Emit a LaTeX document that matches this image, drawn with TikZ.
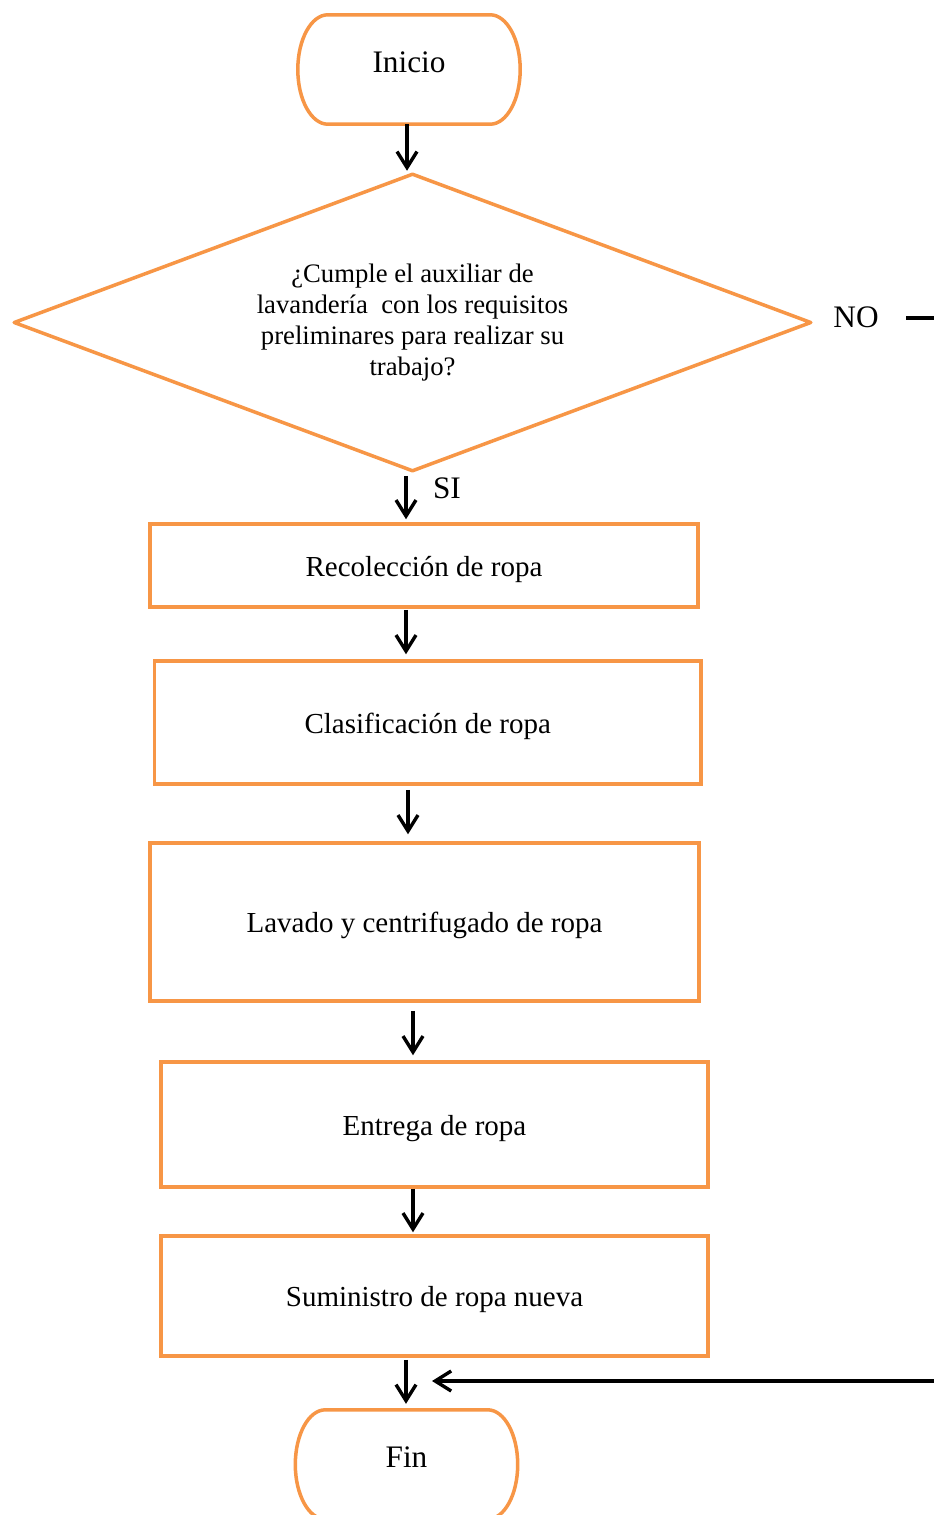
\documentclass[tikz,border=0pt]{standalone}
\usepackage{fontspec}
\setmainfont{Liberation Serif}
\usetikzlibrary{arrows.meta,shapes.geometric}
\definecolor{flowor}{HTML}{F79646}
\begin{document}
\begin{tikzpicture}[x=1pt,y=-1pt,
  box/.style={draw=flowor, line width=3.5pt, rectangle, inner sep=0pt,
    font=\fontsize{29}{33}\selectfont, text height=21pt, text depth=0pt},
  decision/.style={draw=flowor, line width=3.5pt, line join=round, diamond,
    aspect=2.68, inner sep=0pt, font=\fontsize{26.7}{31}\selectfont, align=center},
  termtext/.style={inner sep=0pt, font=\fontsize{31.3}{36}\selectfont,
    text depth=15pt, minimum width=222pt, minimum height=109pt},
  termline/.style={draw=flowor, line width=3.5pt},
  flow/.style={draw=black, line width=3.4pt, -{Straight Barb[length=16pt,width=20pt]}},
  tag/.style={font=\fontsize{31.3}{36}\selectfont, inner sep=0pt}
]
\useasboundingbox (0,0) rectangle (934,1515);
\fill[white] (0,0) rectangle (934,1515);
\clip (0,0) rectangle (934,1515);

% start terminal: straight top and bottom, half-elliptic ends
\node[termtext] (inicio) at (409,69.5) {Inicio};
\draw[termline] ([xshift=30pt]inicio.north west)
  .. controls ([xshift=13.43pt]inicio.north west) and ([yshift=30.1pt]inicio.west) .. (inicio.west)
  .. controls ([yshift=-30.1pt]inicio.west) and ([xshift=13.43pt]inicio.south west) .. ([xshift=30pt]inicio.south west)
  -- ([xshift=-30pt]inicio.south east)
  .. controls ([xshift=-13.43pt]inicio.south east) and ([yshift=-30.1pt]inicio.east) .. (inicio.east)
  .. controls ([yshift=30.1pt]inicio.east) and ([xshift=-13.43pt]inicio.north east) .. ([xshift=-30pt]inicio.north east)
  -- cycle;

% decision
\node[decision, minimum width=798pt, minimum height=298pt] (dec) at (412.5,322.5)
  {¿Cumple el auxiliar de\\lavandería~ con los requisitos\\preliminares para realizar su\\trabajo?};

% process steps
\node[box, minimum width=548pt, minimum height=83pt] (rec) at (424,565.5) {Recolección de ropa};
\node[box, minimum width=546.5pt, minimum height=123pt] (cla) at (427.75,722.5) {Clasificación de ropa};
\node[box, minimum width=549pt, minimum height=158pt] (lav) at (424.5,922) {Lavado y centrifugado de ropa};
\node[box, minimum width=547pt, minimum height=125pt] (ent) at (434.5,1124.5) {Entrega de ropa};
\node[box, minimum width=547pt, minimum height=120pt] (sum) at (434.5,1296) {Suministro de ropa nueva};

% end terminal
\node[termtext] (fin) at (406.5,1464.5) {Fin};
\draw[termline] ([xshift=30pt]fin.north west)
  .. controls ([xshift=13.43pt]fin.north west) and ([yshift=30.1pt]fin.west) .. (fin.west)
  .. controls ([yshift=-30.1pt]fin.west) and ([xshift=13.43pt]fin.south west) .. ([xshift=30pt]fin.south west)
  -- ([xshift=-30pt]fin.south east)
  .. controls ([xshift=-13.43pt]fin.south east) and ([yshift=-30.1pt]fin.east) .. (fin.east)
  .. controls ([yshift=30.1pt]fin.east) and ([xshift=-13.43pt]fin.north east) .. ([xshift=-30pt]fin.north east)
  -- cycle;

% labels of the decision
\node[tag] (no) at (856,317) {NO};
\node[tag] (si) at (447,488) {SI};

% main flow
\coordinate (s1) at ([xshift=-2pt]inicio.south);
\draw[flow, shorten >=1pt] (s1) -- (s1 |- dec.north);
\coordinate (s2) at ([xshift=-6.5pt,yshift=-2.5pt]dec.south);
\draw[flow, shorten >=3pt] (s2) -- (s2 |- rec.north);
\coordinate (s3) at ([xshift=-18pt,yshift=-1pt]rec.south);
\draw[flow, shorten >=5pt] (s3) -- (s3 |- cla.north);
\coordinate (s4) at ([xshift=-19.75pt,yshift=-4pt]cla.south);
\draw[flow, shorten >=7pt] (s4) -- (s4 |- lav.north);
\coordinate (s5) at ([xshift=-11.5pt,yshift=-8pt]lav.south);
\draw[flow, shorten >=5pt] (s5) -- (s5 |- ent.north);
\coordinate (s6) at ([xshift=-21.5pt]ent.south);
\draw[flow, shorten >=2pt] (s6) -- (s6 |- sum.north);
\coordinate (s7) at ([xshift=-28.5pt,yshift=-2pt]sum.south);
\draw[flow, shorten >=6pt] (s7) -- (s7 |- fin.north);

% NO branch leaving and coming back
\coordinate (nostart) at (906,318);
\coordinate (noend) at (934,318);
\draw[line width=3.4pt] (nostart) -- (noend);
\coordinate (back) at (934,1381);
\coordinate (merge) at (432,1381);
\draw[flow] (back) -- (merge);
\end{tikzpicture}
\end{document}
